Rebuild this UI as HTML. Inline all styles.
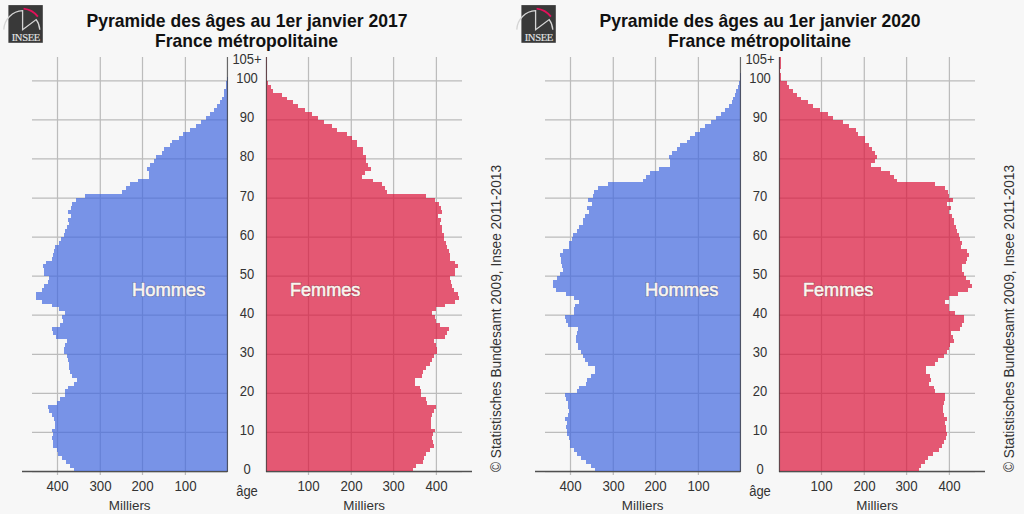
<!DOCTYPE html>
<html><head><meta charset="utf-8"><style>
html,body{margin:0;padding:0;background:#f7f7f7;}
svg{display:block;font-family:"Liberation Sans",sans-serif;}
</style></head><body>
<svg width="1024" height="514" viewBox="0 0 1024 514">
<rect width="1024" height="514" fill="#f7f7f7"/>
<g transform="translate(0,0)">
<path d="M32 471.5 H227 M266 471.5 H462" stroke="#bcbcbc" stroke-width="1.25"/>
<path d="M32 432.393 H227 M266 432.393 H462" stroke="#bcbcbc" stroke-width="1.25"/>
<path d="M32 393.337 H227 M266 393.337 H462" stroke="#bcbcbc" stroke-width="1.25"/>
<path d="M32 354.28 H227 M266 354.28 H462" stroke="#bcbcbc" stroke-width="1.25"/>
<path d="M32 315.224 H227 M266 315.224 H462" stroke="#bcbcbc" stroke-width="1.25"/>
<path d="M32 276.167 H227 M266 276.167 H462" stroke="#bcbcbc" stroke-width="1.25"/>
<path d="M32 237.11 H227 M266 237.11 H462" stroke="#bcbcbc" stroke-width="1.25"/>
<path d="M32 198.054 H227 M266 198.054 H462" stroke="#bcbcbc" stroke-width="1.25"/>
<path d="M32 158.997 H227 M266 158.997 H462" stroke="#bcbcbc" stroke-width="1.25"/>
<path d="M32 119.941 H227 M266 119.941 H462" stroke="#bcbcbc" stroke-width="1.25"/>
<path d="M32 80.884 H227 M266 80.884 H462" stroke="#bcbcbc" stroke-width="1.25"/>
<path d="M57.5 57 V475" stroke="#bcbcbc" stroke-width="1.25"/>
<path d="M100.3 57 V475" stroke="#bcbcbc" stroke-width="1.25"/>
<path d="M142.5 57 V475" stroke="#bcbcbc" stroke-width="1.25"/>
<path d="M185.4 57 V475" stroke="#bcbcbc" stroke-width="1.25"/>
<path d="M308.5 57 V475" stroke="#bcbcbc" stroke-width="1.25"/>
<path d="M351.3 57 V475" stroke="#bcbcbc" stroke-width="1.25"/>
<path d="M393.6 57 V475" stroke="#bcbcbc" stroke-width="1.25"/>
<path d="M436.4 57 V475" stroke="#bcbcbc" stroke-width="1.25"/>
<path d="M22 471.5 H227.5 M266 471.5 H472" stroke="#505050" stroke-width="1.5"/>
</g>
<path d="M228 471 L74 471 L74 468 L70 468 L70 464 L66 464 L66 460 L62 460 L62 456 L58 456 L58 452 L57 452 L57 448 L53 448 L53 444 L53 444 L53 440 L52 440 L52 436 L53 436 L53 432 L52 432 L52 429 L55 429 L55 425 L55 425 L55 421 L54 421 L54 417 L52 417 L52 413 L49 413 L49 409 L48 409 L48 405 L57 405 L57 401 L60 401 L60 397 L65 397 L65 393 L65 393 L65 389 L68 389 L68 386 L74 386 L74 382 L77 382 L77 378 L72 378 L72 374 L70 374 L70 370 L69 370 L69 366 L69 366 L69 362 L68 362 L68 358 L67 358 L67 354 L64 354 L64 350 L64 350 L64 347 L65 347 L65 343 L67 343 L67 339 L56 339 L56 335 L53 335 L53 331 L52 331 L52 327 L60 327 L60 323 L63 323 L63 319 L62 319 L62 315 L65 315 L65 311 L59 311 L59 307 L52 307 L52 304 L42 304 L42 300 L36 300 L36 296 L36 296 L36 292 L42 292 L42 288 L44 288 L44 284 L48 284 L48 280 L49 280 L49 276 L44 276 L44 272 L44 272 L44 268 L43 268 L43 264 L46 264 L46 261 L52 261 L52 257 L53 257 L53 253 L54 253 L54 249 L55 249 L55 245 L59 245 L59 241 L61 241 L61 237 L64 237 L64 233 L65 233 L65 229 L67 229 L67 225 L69 225 L69 222 L68 222 L68 218 L71 218 L71 214 L68 214 L68 210 L71 210 L71 206 L72 206 L72 202 L76 202 L76 198 L85 198 L85 194 L122 194 L122 190 L126 190 L126 186 L130 186 L130 182 L138 182 L138 179 L149 179 L149 175 L149 175 L149 171 L147 171 L147 167 L150 167 L150 163 L154 163 L154 159 L156 159 L156 155 L162 155 L162 151 L164 151 L164 147 L170 147 L170 143 L172 143 L172 140 L179 140 L179 136 L183 136 L183 132 L190 132 L190 128 L196 128 L196 124 L201 124 L201 120 L206 120 L206 116 L210 116 L210 112 L214 112 L214 108 L217 108 L217 104 L220 104 L220 100 L222 100 L222 97 L224 97 L224 93 L224 93 L224 89 L226 89 L226 85 L226 85 L226 81 L227 81 L227 77 L228 77 L228 73 L228 73 L228 69 L228 69 L228 65 L228 65 L228 61 L228 61 L228 57 L228 57 Z" fill="#4268e0" fill-opacity="0.7" shape-rendering="crispEdges"/>
<path d="M266 471 L413 471 L413 468 L416 468 L416 464 L423 464 L423 460 L424 460 L424 456 L426 456 L426 452 L430 452 L430 448 L434 448 L434 444 L433 444 L433 440 L432 440 L432 436 L433 436 L433 432 L435 432 L435 429 L431 429 L431 425 L431 425 L431 421 L431 421 L431 417 L432 417 L432 413 L434 413 L434 409 L436 409 L436 405 L427 405 L427 401 L426 401 L426 397 L421 397 L421 393 L421 393 L421 389 L420 389 L420 386 L415 386 L415 382 L415 382 L415 378 L422 378 L422 374 L423 374 L423 370 L426 370 L426 366 L430 366 L430 362 L432 362 L432 358 L434 358 L434 354 L437 354 L437 350 L437 350 L437 347 L436 347 L436 343 L434 343 L434 339 L445 339 L445 335 L447 335 L447 331 L449 331 L449 327 L440 327 L440 323 L436 323 L436 319 L435 319 L435 315 L432 315 L432 311 L436 311 L436 307 L445 307 L445 304 L455 304 L455 300 L459 300 L459 296 L458 296 L458 292 L454 292 L454 288 L452 288 L452 284 L451 284 L451 280 L450 280 L450 276 L455 276 L455 272 L455 272 L455 268 L458 268 L458 264 L455 264 L455 261 L450 261 L450 257 L450 257 L450 253 L449 253 L449 249 L447 249 L447 245 L446 245 L446 241 L444 241 L444 237 L444 237 L444 233 L442 233 L442 229 L442 229 L442 225 L440 225 L440 222 L441 222 L441 218 L438 218 L438 214 L442 214 L442 210 L441 210 L441 206 L439 206 L439 202 L435 202 L435 198 L426 198 L426 194 L387 194 L387 190 L385 190 L385 186 L382 186 L382 182 L373 182 L373 179 L362 179 L362 175 L365 175 L365 171 L371 171 L371 167 L368 167 L368 163 L366 163 L366 159 L366 159 L366 155 L363 155 L363 151 L363 151 L363 147 L357 147 L357 143 L357 143 L357 140 L352 140 L352 136 L347 136 L347 132 L337 132 L337 128 L332 128 L332 124 L324 124 L324 120 L318 120 L318 116 L312 116 L312 112 L305 112 L305 108 L298 108 L298 104 L293 104 L293 100 L287 100 L287 97 L282 97 L282 93 L273 93 L273 89 L271 89 L271 85 L268 85 L268 81 L267 81 L267 77 L267 77 L267 73 L267 73 L267 69 L267 69 L267 65 L267 65 L267 61 L267 61 L267 57 L266 57 Z" fill="#dc143a" fill-opacity="0.7" shape-rendering="crispEdges"/>
<g transform="translate(0,0)">
<path d="M227.45 57 V472 M266.45 57 V472" stroke="#404040" stroke-opacity="0.78" stroke-width="1.2"/>
<text transform="translate(247,27.3) scale(1,1.04)" text-anchor="middle" font-size="18" font-weight="bold" fill="#111" textLength="321" lengthAdjust="spacingAndGlyphs">Pyramide des âges au 1er janvier 2017</text>
<text transform="translate(246.6,46.9) scale(1,1.04)" text-anchor="middle" font-size="18" font-weight="bold" fill="#111" textLength="183" lengthAdjust="spacingAndGlyphs">France métropolitaine</text>
<text transform="translate(247,473.9) scale(1,1.08)" text-anchor="middle" font-size="13" fill="#333">0</text>
<text transform="translate(247,434.843) scale(1,1.08)" text-anchor="middle" font-size="13" fill="#333">10</text>
<text transform="translate(247,395.787) scale(1,1.08)" text-anchor="middle" font-size="13" fill="#333">20</text>
<text transform="translate(247,356.73) scale(1,1.08)" text-anchor="middle" font-size="13" fill="#333">30</text>
<text transform="translate(247,317.674) scale(1,1.08)" text-anchor="middle" font-size="13" fill="#333">40</text>
<text transform="translate(247,278.617) scale(1,1.08)" text-anchor="middle" font-size="13" fill="#333">50</text>
<text transform="translate(247,239.56) scale(1,1.08)" text-anchor="middle" font-size="13" fill="#333">60</text>
<text transform="translate(247,200.504) scale(1,1.08)" text-anchor="middle" font-size="13" fill="#333">70</text>
<text transform="translate(247,161.447) scale(1,1.08)" text-anchor="middle" font-size="13" fill="#333">80</text>
<text transform="translate(247,122.391) scale(1,1.08)" text-anchor="middle" font-size="13" fill="#333">90</text>
<text transform="translate(247,83.334) scale(1,1.08)" text-anchor="middle" font-size="13" fill="#333">100</text>
<text transform="translate(247,63.8057) scale(1,1.08)" text-anchor="middle" font-size="13" fill="#333">105+</text>
<text transform="translate(57.5,491) scale(1,1.08)" text-anchor="middle" font-size="13" fill="#333" textLength="22.2" lengthAdjust="spacingAndGlyphs">400</text>
<text transform="translate(100.5,491) scale(1,1.08)" text-anchor="middle" font-size="13" fill="#333" textLength="22.2" lengthAdjust="spacingAndGlyphs">300</text>
<text transform="translate(142.5,491) scale(1,1.08)" text-anchor="middle" font-size="13" fill="#333" textLength="22.2" lengthAdjust="spacingAndGlyphs">200</text>
<text transform="translate(185.5,491) scale(1,1.08)" text-anchor="middle" font-size="13" fill="#333" textLength="22.2" lengthAdjust="spacingAndGlyphs">100</text>
<text transform="translate(308.5,491) scale(1,1.08)" text-anchor="middle" font-size="13" fill="#333" textLength="22.2" lengthAdjust="spacingAndGlyphs">100</text>
<text transform="translate(351.5,491) scale(1,1.08)" text-anchor="middle" font-size="13" fill="#333" textLength="22.2" lengthAdjust="spacingAndGlyphs">200</text>
<text transform="translate(393.5,491) scale(1,1.08)" text-anchor="middle" font-size="13" fill="#333" textLength="22.2" lengthAdjust="spacingAndGlyphs">300</text>
<text transform="translate(436.5,491) scale(1,1.08)" text-anchor="middle" font-size="13" fill="#333" textLength="22.2" lengthAdjust="spacingAndGlyphs">400</text>
<text transform="translate(129.7,510.4) scale(1,1)" text-anchor="middle" font-size="13" fill="#333" textLength="41.7" lengthAdjust="spacingAndGlyphs">Milliers</text>
<text transform="translate(364.2,510.4) scale(1,1)" text-anchor="middle" font-size="13" fill="#333" textLength="41.7" lengthAdjust="spacingAndGlyphs">Milliers</text>
<text transform="translate(247,495.6) scale(1,1.08)" text-anchor="middle" font-size="13" fill="#333">âge</text>
<text x="168.7" y="295.6" text-anchor="middle" font-size="18" fill="none" stroke="#403030" stroke-opacity="0.3" stroke-width="1.9" textLength="73.5" lengthAdjust="spacingAndGlyphs">Hommes</text>
<text x="168.7" y="295.6" text-anchor="middle" font-size="18" fill="#faf6f0" stroke="#faf6f0" stroke-width="0.55" textLength="73.5" lengthAdjust="spacingAndGlyphs">Hommes</text>
<text x="325.2" y="295.6" text-anchor="middle" font-size="18" fill="none" stroke="#403030" stroke-opacity="0.3" stroke-width="1.9" textLength="70.5" lengthAdjust="spacingAndGlyphs">Femmes</text>
<text x="325.2" y="295.6" text-anchor="middle" font-size="18" fill="#faf6f0" stroke="#faf6f0" stroke-width="0.55" textLength="70.5" lengthAdjust="spacingAndGlyphs">Femmes</text>
<text transform="translate(501.2,472) rotate(-90) scale(1,1.06)" font-size="13" fill="#333" textLength="307" lengthAdjust="spacingAndGlyphs">© Statistisches Bundesamt 2009, Insee 2011-2013</text>
<g>
<rect x="8.4" y="5.1" width="34.4" height="37.7" fill="#393939"/>
<path d="M3.8 29.6 A19.8 19.8 0 0 1 22.6 10.6 V29.8 L36.2 19.6 Q39.4 23.8 39.8 29.8" fill="none" stroke="#d4d4d4" stroke-width="1.3"/>
<path d="M23.6 8.6 Q32.5 9.6 37.9 16.6" fill="none" stroke="#e4105a" stroke-width="1.8"/>
<text x="26" y="41.1" text-anchor="middle" font-family="Liberation Serif, serif" font-size="10.6" fill="#e4e4e4" stroke="#e4e4e4" stroke-width="0.15" textLength="28.6" lengthAdjust="spacing">INSEE</text>
</g>
</g>
<g transform="translate(513,0)">
<path d="M32 471.5 H227 M266 471.5 H462" stroke="#bcbcbc" stroke-width="1.25"/>
<path d="M32 432.393 H227 M266 432.393 H462" stroke="#bcbcbc" stroke-width="1.25"/>
<path d="M32 393.337 H227 M266 393.337 H462" stroke="#bcbcbc" stroke-width="1.25"/>
<path d="M32 354.28 H227 M266 354.28 H462" stroke="#bcbcbc" stroke-width="1.25"/>
<path d="M32 315.224 H227 M266 315.224 H462" stroke="#bcbcbc" stroke-width="1.25"/>
<path d="M32 276.167 H227 M266 276.167 H462" stroke="#bcbcbc" stroke-width="1.25"/>
<path d="M32 237.11 H227 M266 237.11 H462" stroke="#bcbcbc" stroke-width="1.25"/>
<path d="M32 198.054 H227 M266 198.054 H462" stroke="#bcbcbc" stroke-width="1.25"/>
<path d="M32 158.997 H227 M266 158.997 H462" stroke="#bcbcbc" stroke-width="1.25"/>
<path d="M32 119.941 H227 M266 119.941 H462" stroke="#bcbcbc" stroke-width="1.25"/>
<path d="M32 80.884 H227 M266 80.884 H462" stroke="#bcbcbc" stroke-width="1.25"/>
<path d="M57.5 57 V475" stroke="#bcbcbc" stroke-width="1.25"/>
<path d="M100.3 57 V475" stroke="#bcbcbc" stroke-width="1.25"/>
<path d="M142.5 57 V475" stroke="#bcbcbc" stroke-width="1.25"/>
<path d="M185.4 57 V475" stroke="#bcbcbc" stroke-width="1.25"/>
<path d="M308.5 57 V475" stroke="#bcbcbc" stroke-width="1.25"/>
<path d="M351.3 57 V475" stroke="#bcbcbc" stroke-width="1.25"/>
<path d="M393.6 57 V475" stroke="#bcbcbc" stroke-width="1.25"/>
<path d="M436.4 57 V475" stroke="#bcbcbc" stroke-width="1.25"/>
<path d="M22 471.5 H227.5 M266 471.5 H472" stroke="#505050" stroke-width="1.5"/>
</g>
<path d="M741 471 L595 471 L595 468 L591 468 L591 464 L586 464 L586 460 L581 460 L581 456 L577 456 L577 452 L574 452 L574 448 L570 448 L570 444 L570 444 L570 440 L569 440 L569 436 L567 436 L567 432 L567 432 L567 429 L566 429 L566 425 L567 425 L567 421 L565 421 L565 417 L568 417 L568 413 L569 413 L569 409 L568 409 L568 405 L568 405 L568 401 L566 401 L566 397 L565 397 L565 393 L577 393 L577 389 L579 389 L579 386 L586 386 L586 382 L587 382 L587 378 L591 378 L591 374 L595 374 L595 370 L595 370 L595 366 L588 366 L588 362 L585 362 L585 358 L583 358 L583 354 L581 354 L581 350 L578 350 L578 347 L578 347 L578 343 L576 343 L576 339 L576 339 L576 335 L577 335 L577 331 L578 331 L578 327 L568 327 L568 323 L566 323 L566 319 L565 319 L565 315 L574 315 L574 311 L574 311 L574 307 L575 307 L575 304 L579 304 L579 300 L574 300 L574 296 L566 296 L566 292 L556 292 L556 288 L553 288 L553 284 L553 284 L553 280 L557 280 L557 276 L560 276 L560 272 L563 272 L563 268 L562 268 L562 264 L561 264 L561 261 L561 261 L561 257 L560 257 L560 253 L563 253 L563 249 L569 249 L569 245 L569 245 L569 241 L572 241 L572 237 L573 237 L573 233 L577 233 L577 229 L579 229 L579 225 L583 225 L583 222 L583 222 L583 218 L585 218 L585 214 L589 214 L589 210 L587 210 L587 206 L592 206 L592 202 L588 202 L588 198 L593 198 L593 194 L594 194 L594 190 L598 190 L598 186 L608 186 L608 182 L643 182 L643 179 L646 179 L646 175 L650 175 L650 171 L659 171 L659 167 L670 167 L670 163 L670 163 L670 159 L669 159 L669 155 L672 155 L672 151 L677 151 L677 147 L680 147 L680 143 L687 143 L687 140 L690 140 L690 136 L695 136 L695 132 L700 132 L700 128 L705 128 L705 124 L711 124 L711 120 L716 120 L716 116 L721 116 L721 112 L725 112 L725 108 L729 108 L729 104 L732 104 L732 100 L733 100 L733 97 L735 97 L735 93 L736 93 L736 89 L738 89 L738 85 L739 85 L739 81 L740 81 L740 77 L740 77 L740 73 L741 73 L741 69 L741 69 L741 65 L741 65 L741 61 L741 61 L741 57 L741 57 Z" fill="#4268e0" fill-opacity="0.7" shape-rendering="crispEdges"/>
<path d="M779 471 L919 471 L919 468 L921 468 L921 464 L925 464 L925 460 L928 460 L928 456 L933 456 L933 452 L939 452 L939 448 L942 448 L942 444 L944 444 L944 440 L946 440 L946 436 L947 436 L947 432 L946 432 L946 429 L946 429 L946 425 L945 425 L945 421 L947 421 L947 417 L944 417 L944 413 L943 413 L943 409 L943 409 L943 405 L944 405 L944 401 L945 401 L945 397 L945 397 L945 393 L935 393 L935 389 L934 389 L934 386 L929 386 L929 382 L931 382 L931 378 L930 378 L930 374 L926 374 L926 370 L926 370 L926 366 L935 366 L935 362 L938 362 L938 358 L944 358 L944 354 L947 354 L947 350 L949 350 L949 347 L950 347 L950 343 L954 343 L954 339 L953 339 L953 335 L951 335 L951 331 L960 331 L960 327 L962 327 L962 323 L964 323 L964 319 L964 319 L964 315 L955 315 L955 311 L949 311 L949 307 L949 307 L949 304 L945 304 L945 300 L949 300 L949 296 L958 296 L958 292 L968 292 L968 288 L972 288 L972 284 L970 284 L970 280 L966 280 L966 276 L964 276 L964 272 L962 272 L962 268 L962 268 L962 264 L966 264 L966 261 L967 261 L967 257 L969 257 L969 253 L967 253 L967 249 L961 249 L961 245 L962 245 L962 241 L960 241 L960 237 L959 237 L959 233 L957 233 L957 229 L956 229 L956 225 L954 225 L954 222 L954 222 L954 218 L952 218 L952 214 L949 214 L949 210 L951 210 L951 206 L947 206 L947 202 L953 202 L953 198 L949 198 L949 194 L948 194 L948 190 L945 190 L945 186 L935 186 L935 182 L897 182 L897 179 L894 179 L894 175 L890 175 L890 171 L881 171 L881 167 L871 167 L871 163 L875 163 L875 159 L877 159 L877 155 L875 155 L875 151 L872 151 L872 147 L869 147 L869 143 L865 143 L865 140 L865 140 L865 136 L858 136 L858 132 L856 132 L856 128 L849 128 L849 124 L843 124 L843 120 L833 120 L833 116 L828 116 L828 112 L820 112 L820 108 L813 108 L813 104 L808 104 L808 100 L801 100 L801 97 L797 97 L797 93 L793 93 L793 89 L789 89 L789 85 L787 85 L787 81 L781 81 L781 77 L781 77 L781 73 L780 73 L780 69 L781 69 L781 65 L781 65 L781 61 L781 61 L781 57 L779 57 Z" fill="#dc143a" fill-opacity="0.7" shape-rendering="crispEdges"/>
<g transform="translate(513,0)">
<path d="M227.45 57 V472 M266.45 57 V472" stroke="#404040" stroke-opacity="0.78" stroke-width="1.2"/>
<text transform="translate(247,27.3) scale(1,1.04)" text-anchor="middle" font-size="18" font-weight="bold" fill="#111" textLength="321" lengthAdjust="spacingAndGlyphs">Pyramide des âges au 1er janvier 2020</text>
<text transform="translate(246.6,46.9) scale(1,1.04)" text-anchor="middle" font-size="18" font-weight="bold" fill="#111" textLength="183" lengthAdjust="spacingAndGlyphs">France métropolitaine</text>
<text transform="translate(247,473.9) scale(1,1.08)" text-anchor="middle" font-size="13" fill="#333">0</text>
<text transform="translate(247,434.843) scale(1,1.08)" text-anchor="middle" font-size="13" fill="#333">10</text>
<text transform="translate(247,395.787) scale(1,1.08)" text-anchor="middle" font-size="13" fill="#333">20</text>
<text transform="translate(247,356.73) scale(1,1.08)" text-anchor="middle" font-size="13" fill="#333">30</text>
<text transform="translate(247,317.674) scale(1,1.08)" text-anchor="middle" font-size="13" fill="#333">40</text>
<text transform="translate(247,278.617) scale(1,1.08)" text-anchor="middle" font-size="13" fill="#333">50</text>
<text transform="translate(247,239.56) scale(1,1.08)" text-anchor="middle" font-size="13" fill="#333">60</text>
<text transform="translate(247,200.504) scale(1,1.08)" text-anchor="middle" font-size="13" fill="#333">70</text>
<text transform="translate(247,161.447) scale(1,1.08)" text-anchor="middle" font-size="13" fill="#333">80</text>
<text transform="translate(247,122.391) scale(1,1.08)" text-anchor="middle" font-size="13" fill="#333">90</text>
<text transform="translate(247,83.334) scale(1,1.08)" text-anchor="middle" font-size="13" fill="#333">100</text>
<text transform="translate(247,63.8057) scale(1,1.08)" text-anchor="middle" font-size="13" fill="#333">105+</text>
<text transform="translate(57.5,491) scale(1,1.08)" text-anchor="middle" font-size="13" fill="#333" textLength="22.2" lengthAdjust="spacingAndGlyphs">400</text>
<text transform="translate(100.5,491) scale(1,1.08)" text-anchor="middle" font-size="13" fill="#333" textLength="22.2" lengthAdjust="spacingAndGlyphs">300</text>
<text transform="translate(142.5,491) scale(1,1.08)" text-anchor="middle" font-size="13" fill="#333" textLength="22.2" lengthAdjust="spacingAndGlyphs">200</text>
<text transform="translate(185.5,491) scale(1,1.08)" text-anchor="middle" font-size="13" fill="#333" textLength="22.2" lengthAdjust="spacingAndGlyphs">100</text>
<text transform="translate(308.5,491) scale(1,1.08)" text-anchor="middle" font-size="13" fill="#333" textLength="22.2" lengthAdjust="spacingAndGlyphs">100</text>
<text transform="translate(351.5,491) scale(1,1.08)" text-anchor="middle" font-size="13" fill="#333" textLength="22.2" lengthAdjust="spacingAndGlyphs">200</text>
<text transform="translate(393.5,491) scale(1,1.08)" text-anchor="middle" font-size="13" fill="#333" textLength="22.2" lengthAdjust="spacingAndGlyphs">300</text>
<text transform="translate(436.5,491) scale(1,1.08)" text-anchor="middle" font-size="13" fill="#333" textLength="22.2" lengthAdjust="spacingAndGlyphs">400</text>
<text transform="translate(129.7,510.4) scale(1,1)" text-anchor="middle" font-size="13" fill="#333" textLength="41.7" lengthAdjust="spacingAndGlyphs">Milliers</text>
<text transform="translate(364.2,510.4) scale(1,1)" text-anchor="middle" font-size="13" fill="#333" textLength="41.7" lengthAdjust="spacingAndGlyphs">Milliers</text>
<text transform="translate(247,495.6) scale(1,1.08)" text-anchor="middle" font-size="13" fill="#333">âge</text>
<text x="168.7" y="295.6" text-anchor="middle" font-size="18" fill="none" stroke="#403030" stroke-opacity="0.3" stroke-width="1.9" textLength="73.5" lengthAdjust="spacingAndGlyphs">Hommes</text>
<text x="168.7" y="295.6" text-anchor="middle" font-size="18" fill="#faf6f0" stroke="#faf6f0" stroke-width="0.55" textLength="73.5" lengthAdjust="spacingAndGlyphs">Hommes</text>
<text x="325.2" y="295.6" text-anchor="middle" font-size="18" fill="none" stroke="#403030" stroke-opacity="0.3" stroke-width="1.9" textLength="70.5" lengthAdjust="spacingAndGlyphs">Femmes</text>
<text x="325.2" y="295.6" text-anchor="middle" font-size="18" fill="#faf6f0" stroke="#faf6f0" stroke-width="0.55" textLength="70.5" lengthAdjust="spacingAndGlyphs">Femmes</text>
<text transform="translate(501.2,472) rotate(-90) scale(1,1.06)" font-size="13" fill="#333" textLength="307" lengthAdjust="spacingAndGlyphs">© Statistisches Bundesamt 2009, Insee 2011-2013</text>
<g>
<rect x="8.4" y="5.1" width="34.4" height="37.7" fill="#393939"/>
<path d="M3.8 29.6 A19.8 19.8 0 0 1 22.6 10.6 V29.8 L36.2 19.6 Q39.4 23.8 39.8 29.8" fill="none" stroke="#d4d4d4" stroke-width="1.3"/>
<path d="M23.6 8.6 Q32.5 9.6 37.9 16.6" fill="none" stroke="#e4105a" stroke-width="1.8"/>
<text x="26" y="41.1" text-anchor="middle" font-family="Liberation Serif, serif" font-size="10.6" fill="#e4e4e4" stroke="#e4e4e4" stroke-width="0.15" textLength="28.6" lengthAdjust="spacing">INSEE</text>
</g>
</g>
</svg>
</body></html>
